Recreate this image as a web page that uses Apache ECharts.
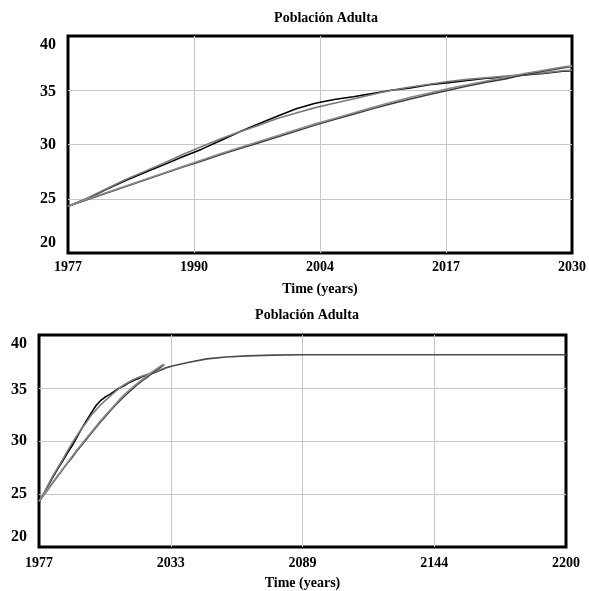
<!DOCTYPE html>
<html>
<head>
<meta charset="utf-8">
<script src="https://cdn.jsdelivr.net/npm/echarts@6/dist/echarts.min.js"></script>
<style>
html,body{margin:0;padding:0;background:#fff;}
#c{width:589px;height:591px;}
</style>
</head>
<body>
<div id="c"></div>
<script>
// ---- data ----
const START = 1977;
const years = [1977,1979,1981,1983,1985,1987,1989,1991,1993,1995,1997,1999,2001,2003,2005,2007,2009,2011,2013,2015,2017,2019,2021,2023,2025,2027,2029,2030];
// upper pair
const serieA = [24.3,25.0,25.85,26.65,27.4,28.1,28.85,29.55,30.35,31.15,31.9,32.6,33.3,33.8,34.15,34.4,34.7,35.0,35.2,35.5,35.7,35.9,36.1,36.2,36.4,36.55,36.75,36.8];
const serieB = [24.3,25.05,25.9,26.75,27.5,28.25,29.05,29.8,30.5,31.15,31.75,32.4,32.9,33.4,33.8,34.2,34.6,35.0,35.3,35.55,35.8,36.0,36.15,36.3,36.45,36.6,36.8,36.85];
// lower pair
const serieC = [24.3,24.9,25.5,26.1,26.7,27.3,27.9,28.45,29.05,29.6,30.15,30.7,31.25,31.8,32.3,32.8,33.3,33.75,34.2,34.6,35.0,35.4,35.75,36.05,36.45,36.75,37.05,37.2];
const serieD = [24.3,24.95,25.55,26.15,26.75,27.35,27.95,28.55,29.15,29.7,30.25,30.8,31.35,31.9,32.4,32.9,33.4,33.9,34.35,34.75,35.15,35.5,35.85,36.2,36.55,36.85,37.15,37.25];
// long run simulation (continues to 2200)
const longYears = [2030,2033,2040,2048,2056,2065,2076,2088,2120,2160,2200];
const longVals  = [36.85,37.05,37.4,37.75,37.92,38.03,38.1,38.13,38.13,38.13,38.13];

const titleText = 'Población Adulta';
const xName = 'Time (years)';
const yTicks = [20,25,30,35,40];

// ---- build ----
const FONT = '"Liberation Serif","DejaVu Serif",serif';
function pts(xs, ys){ return xs.map((x,i)=>[x-START, ys[i]]); }

const colors = {A:'#000000', B:'#7a7a7a', C:'#3a3a3a', D:'#8c8c8c', E:'#4a4a4a'};
const YF = 16;

function yAxisFor(gi){
  const base = {fontFamily:FONT, fontWeight:'bold', fontSize:YF, color:'#000'};
  return {
    gridIndex: gi, type:'value', min: yTicks[0], max: yTicks[yTicks.length-1], interval: 5,
    axisLine:{show:false}, axisTick:{show:false},
    splitLine:{show:true, showMinLine:false, showMaxLine:false, lineStyle:{color:'#c8c8c8', width:1}},
    axisLabel:{
      margin: 12, color:'#000', fontFamily: FONT, fontWeight:'bold', fontSize:YF,
      formatter: v => v===40 ? '{t|40}' : v===20 ? '{b|20}' : v===35 ? '{m|35}' : '{n|'+v+'}',
      rich:{
        t:Object.assign({padding:[18,0,0,0]}, base),
        m:Object.assign({padding:[4,0,0,0]}, base),
        b:Object.assign({padding:[0,0,20,0]}, base),
        n:Object.assign({}, base)
      }
    }
  };
}
function xAxisFor(gi, span, nameGap, margin){
  return {
    gridIndex: gi, type:'value', min:0, max:span, interval: span/4,
    axisLine:{show:false}, axisTick:{show:false},
    splitLine:{show:true, showMinLine:false, showMaxLine:false, lineStyle:{color:'#c8c8c8', width:1}},
    axisLabel:{margin:margin, color:'#000', fontFamily:FONT, fontWeight:'bold', fontSize:14,
      formatter: v => String(Math.round(v + START))},
    name: xName, nameLocation:'middle', nameGap: nameGap,
    nameTextStyle:{color:'#000', fontFamily:FONT, fontWeight:'bold', fontSize:14}
  };
}
function line(name, xs, ys, color, gi){
  return {name, type:'line', xAxisIndex:gi, yAxisIndex:gi, data: pts(xs, ys),
    showSymbol:false, symbol:'none', lineStyle:{color, width:1.6}, itemStyle:{color}, z:3};
}

const option = {
  animation:false,
  backgroundColor:'#fff',
  title:[
    {text:titleText, left:321, top:6, textAlign:'center',
      textStyle:{color:'#000', fontFamily:FONT, fontWeight:'bold', fontSize:14}},
    {text:titleText, left:302, top:303, textAlign:'center',
      textStyle:{color:'#000', fontFamily:FONT, fontWeight:'bold', fontSize:14}}
  ],
  grid:[
    {left:68, top:36, width:507, height:217, show:true, borderColor:'#000', borderWidth:3, backgroundColor:'transparent', containLabel:false},
    {left:39, top:335, width:527, height:215, show:true, borderColor:'#000', borderWidth:3, backgroundColor:'transparent', containLabel:false}
  ],
  xAxis:[ xAxisFor(0, 2030-START, 29, 7), xAxisFor(1, 2200-START, 29, 9) ],
  yAxis:[ yAxisFor(0), yAxisFor(1) ],
  series:[
    line('A', years, serieA, colors.A, 0),
    line('B', years, serieB, colors.B, 0),
    line('C', years, serieC, colors.C, 0),
    line('D', years, serieD, colors.D, 0),
    line('A', years, serieA, colors.A, 1),
    line('B', years, serieB, colors.B, 1),
    line('C', years, serieC, colors.C, 1),
    line('D', years, serieD, colors.D, 1),
    line('E', longYears, longVals, colors.E, 1)
  ]
};
const chart = echarts.init(document.getElementById('c'), null, {renderer:'canvas'});
chart.setOption(option);
</script>
</body>
</html>
